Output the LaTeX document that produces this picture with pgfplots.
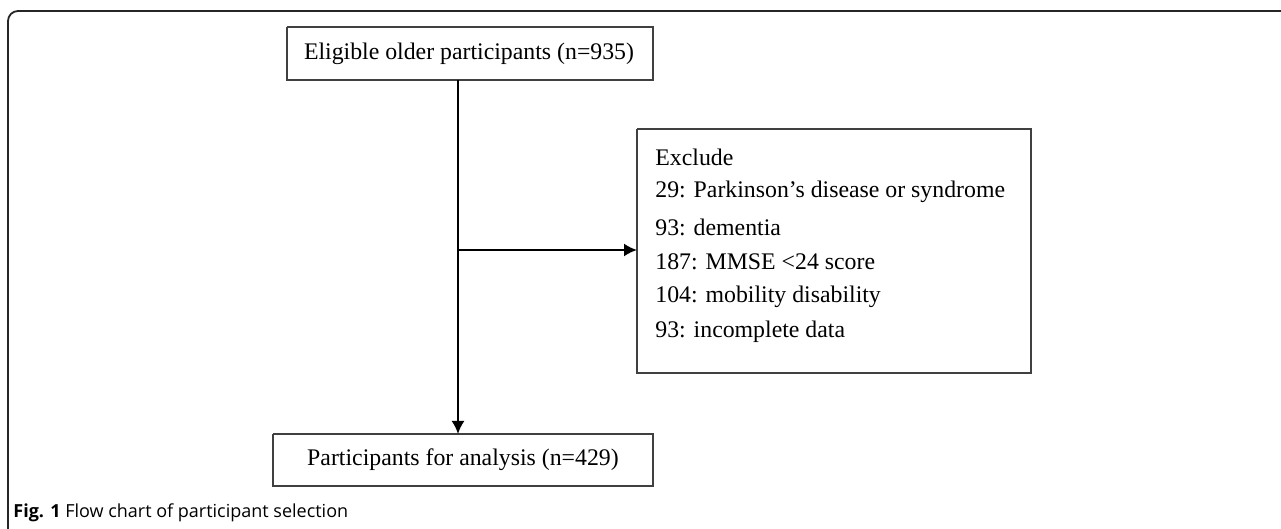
\documentclass[border=0pt]{standalone}
\usepackage{pgfplots}
\pgfplotsset{compat=1.18}
\usetikzlibrary{arrows.meta}
\usepackage{fontspec}
\setmainfont{Liberation Serif}
\newfontfamily\capfont{Open Sans}
\begin{document}
\begin{tikzpicture}
\begin{axis}[
  scale only axis, width=640.5pt, height=264.5pt,
  xmin=0, xmax=1281, ymin=0, ymax=529, y dir=reverse,
  hide axis, clip=false,
]
% outer frame (top and left)
\addplot[draw=black!85, line width=0.9pt, rounded corners=5pt, mark=none] coordinates {(1281,11) (8,11) (8,529)};
% top box
\addplot[draw=black!75, line width=0.6pt, mark=none] coordinates {(287,27) (653,27) (653,80) (287,80) (287,27)};
% exclusion box
\addplot[draw=black!75, line width=0.6pt, mark=none] coordinates {(637,129) (1031,129) (1031,373) (637,373) (637,129)};
% bottom box
\addplot[draw=black!75, line width=0.6pt, mark=none] coordinates {(273,434) (653,434) (653,486) (273,486) (273,434)};
% vertical arrow
\addplot[black, line width=1pt, mark=none, -{Latex[length=6.5pt,width=6.5pt]}] coordinates {(458,80) (458,434)};
% horizontal arrow
\addplot[black, line width=1pt, mark=none, -{Latex[length=6.5pt,width=6.5pt]}] coordinates {(458,250) (637,250)};
% texts
\node[font=\fontsize{11.9pt}{14pt}\selectfont] at (axis cs:469,53.5) {Eligible older participants (n=935)};
\node[font=\fontsize{11.9pt}{14pt}\selectfont] at (axis cs:463,460) {Participants for analysis (n=429)};
\node[anchor=west, font=\fontsize{11.9pt}{14pt}\selectfont, inner sep=0pt] at (axis cs:655,157) {Exclude};
\node[anchor=west, font=\fontsize{11.9pt}{14pt}\selectfont, inner sep=0pt] at (axis cs:655,192) {29: Parkinson’s disease or syndrome};
\node[anchor=west, font=\fontsize{11.9pt}{14pt}\selectfont, inner sep=0pt] at (axis cs:655,227) {93: dementia};
\node[anchor=west, font=\fontsize{11.9pt}{14pt}\selectfont, inner sep=0pt] at (axis cs:655,262) {187: MMSE <24 score};
\node[anchor=west, font=\fontsize{11.9pt}{14pt}\selectfont, inner sep=0pt] at (axis cs:655,297) {104: mobility disability};
\node[anchor=west, font=\fontsize{11.9pt}{14pt}\selectfont, inner sep=0pt] at (axis cs:655,332) {93: incomplete data};
\node[anchor=base west, font=\capfont\fontsize{9pt}{11pt}\selectfont, inner sep=0pt] at (axis cs:13,517) {\textbf{Fig. 1} Flow chart of participant selection};
\end{axis}
\pgfresetboundingbox
\path (current axis.south west) rectangle (current axis.north east);
\end{tikzpicture}
\end{document}
